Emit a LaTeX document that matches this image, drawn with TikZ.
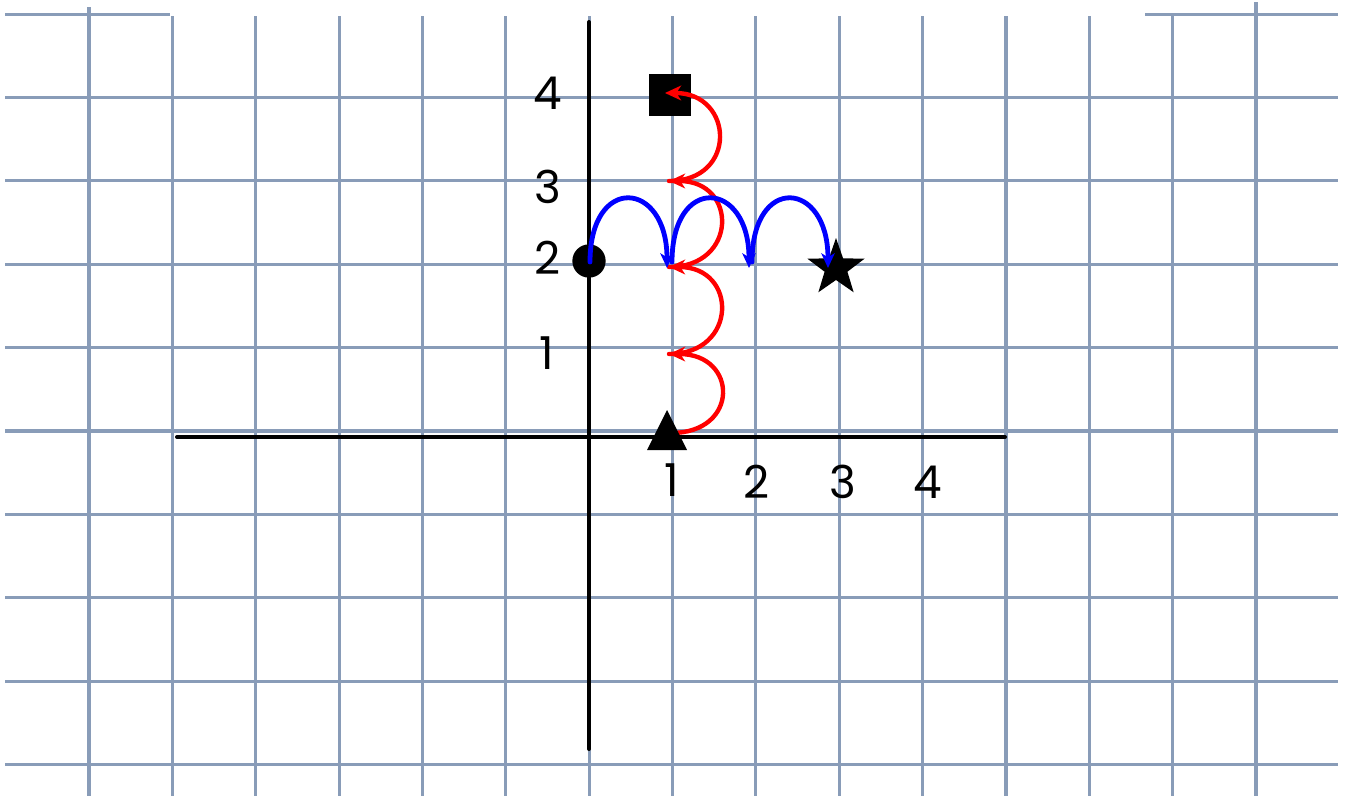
\documentclass[tikz,border=0pt]{standalone}
\usepackage{fontspec}
\setmainfont{Poppins}
\usetikzlibrary{arrows.meta,shapes.geometric}
\definecolor{gridc}{RGB}{137,156,184}
\definecolor{redc}{RGB}{255,0,0}
\definecolor{bluec}{RGB}{0,0,255}
\begin{document}
\begin{tikzpicture}[x=0.75pt,y=-0.75pt,
  gridline/.style={draw=gridc,line width=2.3pt},
  axisline/.style={draw=black,line width=3pt,line cap=round},
  redarc/.style={draw=redc,line width=3.3pt,line cap=round,-{Stealth[length=12pt,width=11pt,inset=3.5pt]}},
  bluearc/.style={draw=bluec,line width=3.6pt,line cap=round,-{Stealth[length=11pt,width=10pt,inset=3pt]}},
  lab/.style={font=\fontsize{34}{38}\selectfont,inner sep=0pt,text=black},
  shapemark/.style={fill=black,inner sep=0pt,draw=none}
]
\useasboundingbox (0,0) rectangle (1346,796);
\fill[white] (0,0) rectangle (1346,796);
% grid
\foreach \y in {97.4,180.8,264.2,347.6,431,514.4,597.8,681.2,764.6}
  \draw[gridline] (5,\y) -- (1338,\y);
\draw[gridline] (5,14.5) -- (170,14.5);
\draw[gridline] (1145,14.5) -- (1338,14.5);
\foreach \i in {1,...,13}
  \draw[gridline] ({89+83.36*\i},16) -- ({89+83.36*\i},796);
\draw[gridline] (89,7) -- (89,796);
\draw[gridline] (1256,2) -- (1256,796);
% axes
\coordinate (xa) at (177,437);
\coordinate (xb) at (1005,437);
\coordinate (ya) at (589,22);
\coordinate (yb) at (589,749);
\draw[axisline] (xa) -- (xb);
\draw[axisline] (ya) -- (yb);
% labels
\node[lab] (ly4) at (548,93) {4};
\node[lab] (ly3) at (548,187) {3};
\node[lab] (ly2) at (548,258) {2};
\node[lab] (ly1) at (547,353) {1};
\node[lab] (lx1) at (672,480) {1};
\node[lab] (lx2) at (757,482) {2};
\node[lab] (lx3) at (843,482) {3};
\node[lab] (lx4) at (928,482) {4};
% markers
\node[shapemark,rectangle,minimum size=31.5pt] (sq) at (670,95) {};
\node[shapemark,circle,minimum size=25pt] (circ) at (589,261) {};
\node[shapemark,star,star points=5,star point ratio=2.5,minimum size=45pt] (st) at (836,268) {};
% red arcs
\coordinate (r0) at (671,433);
\coordinate (r1) at (669,354);
\coordinate (r2) at (669,267);
\coordinate (r3) at (669,181);
\coordinate (r4) at (665,93);
\draw[redarc] (r0) .. controls +(69,0) and +(69,0) .. (r1);
\draw[redarc] (r1) .. controls +(69,0) and +(69,0) .. (r2);
\draw[redarc] (r2) .. controls +(69,0) and +(69,0) .. (r3);
\draw[redarc] (r3) .. controls +(69,0) and +(69,0) .. (r4);
% blue arcs
\coordinate (b0) at (590,262);
\coordinate (b1) at (667,268);
\coordinate (b1s) at (672,262);
\coordinate (b2) at (749,268);
\coordinate (b2s) at (752,262);
\coordinate (b3) at (828,268);
\draw[bluearc] (b0) .. controls +(0,-88) and +(0,-88) .. (b1);
\draw[bluearc] (b1s) .. controls +(0,-88) and +(0,-88) .. (b2);
\draw[bluearc] (b2s) .. controls +(0,-88) and +(0,-88) .. (b3);
% triangle
\coordinate (tri) at (667,432);
\fill[black] (647,450) -- (667,410) -- (687,450) -- cycle;
\end{tikzpicture}
\end{document}
